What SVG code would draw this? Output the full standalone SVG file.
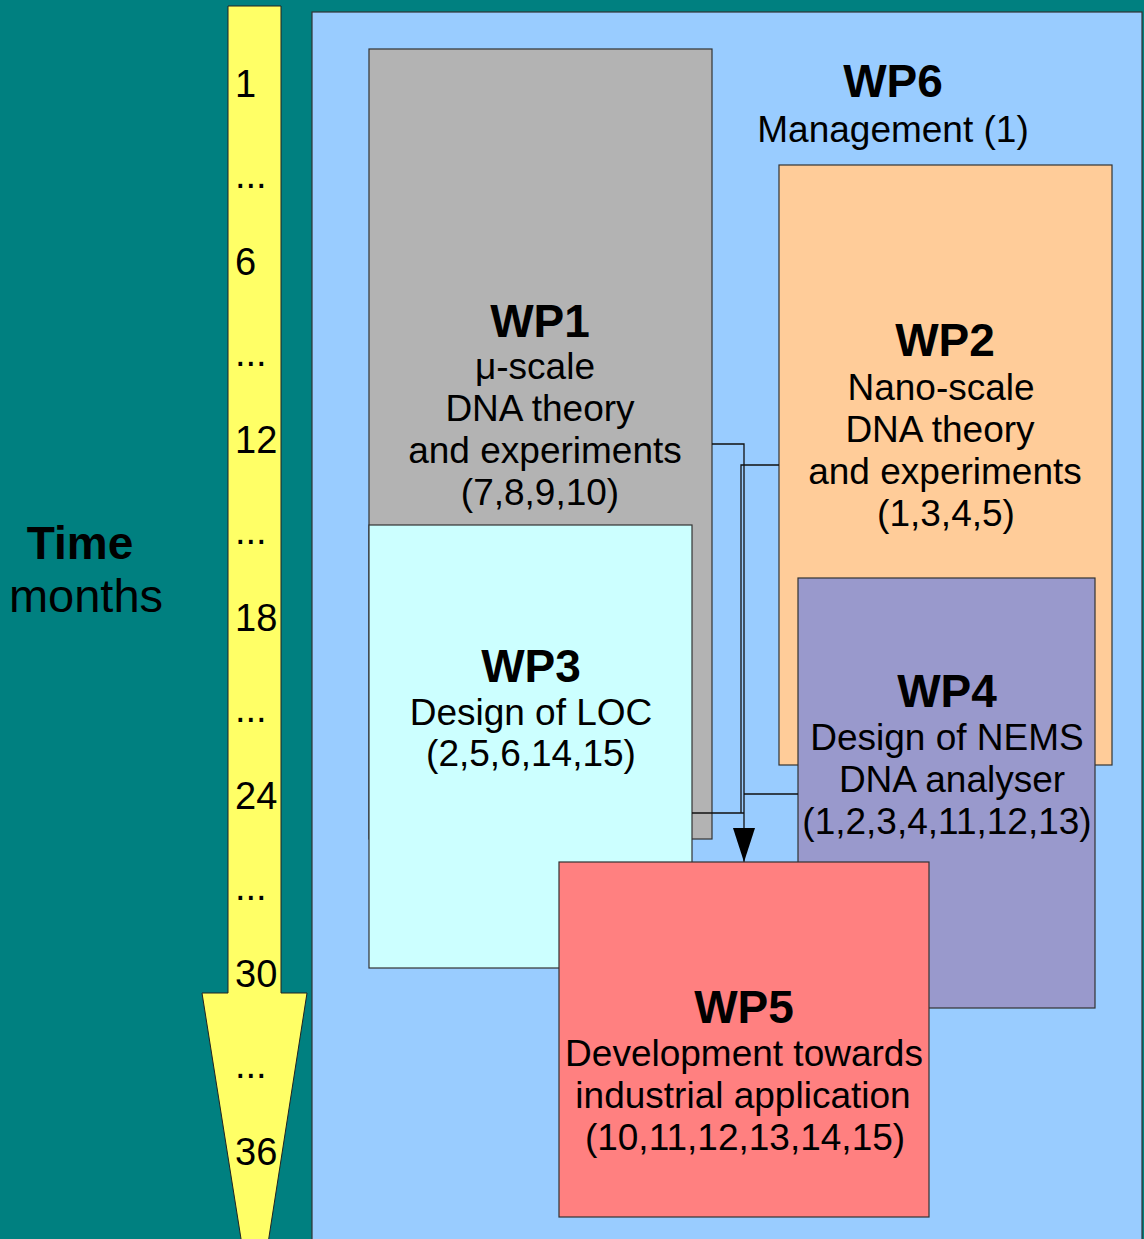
<svg xmlns="http://www.w3.org/2000/svg" width="1144" height="1239" viewBox="0 0 1144 1239">
<defs>
<style>
.box{stroke:#333;stroke-width:1.2}
.t{font-family:"Liberation Sans",Arial,sans-serif;fill:#000;text-anchor:middle}
.b{font-size:46px;font-weight:bold}
.r{font-size:37px}
.n{font-family:"Liberation Sans",Arial,sans-serif;font-size:38px;fill:#000}
.c{fill:none;stroke:#111;stroke-width:1.3}
</style>
<marker id="ah" markerWidth="34" markerHeight="22" refX="34" refY="11" orient="auto" markerUnits="userSpaceOnUse" viewBox="0 0 34 22">
<path d="M0,0 L34,11 L0,22 Z" fill="#000"/>
</marker>
</defs>
<rect x="0" y="0" width="1144" height="1239" fill="#008080"/>
<g id="timeline">
<path d="M228,6 H281 V993 H307 L255,1327 L202,993 H228 Z" fill="#ffff66" stroke="#222" stroke-width="1"/>
<text class="n" x="235" y="97">1</text>
<text class="n" x="235" y="188">...</text>
<text class="n" x="235" y="275">6</text>
<text class="n" x="235" y="366">...</text>
<text class="n" x="235" y="453">12</text>
<text class="n" x="235" y="544">...</text>
<text class="n" x="235" y="631">18</text>
<text class="n" x="235" y="722">...</text>
<text class="n" x="235" y="809">24</text>
<text class="n" x="235" y="900">...</text>
<text class="n" x="235" y="987">30</text>
<text class="n" x="235" y="1078">...</text>
<text class="n" x="235" y="1165">36</text>
</g>
<g id="time-label">
<text class="t b" x="80" y="559">Time</text>
<text class="t" style="font-size:47px" x="86" y="612">months</text>
</g>
<g id="wp6">
<rect class="box" x="312" y="12" width="830" height="1240" fill="#99ccff"/>
<text class="t b" x="893" y="97">WP6</text>
<text class="t r" x="893" y="142">Management (1)</text>
</g>
<g id="wp1">
<rect class="box" x="369" y="49" width="343" height="790" fill="#b3b3b3"/>
<text class="t b" x="540" y="337">WP1</text>
<text class="t r" x="535" y="379">μ-scale</text>
<text class="t r" x="540" y="421">DNA theory</text>
<text class="t r" x="545" y="463">and experiments</text>
<text class="t r" x="540" y="505">(7,8,9,10)</text>
</g>
<g id="wp2">
<rect class="box" x="779" y="165" width="333" height="600" fill="#ffcc99"/>
<text class="t b" x="945" y="356">WP2</text>
<text class="t r" x="941" y="400">Nano-scale</text>
<text class="t r" x="940" y="442">DNA theory</text>
<text class="t r" x="945" y="484">and experiments</text>
<text class="t r" x="946" y="526">(1,3,4,5)</text>
</g>
<g id="wp3">
<rect class="box" x="369" y="525" width="323" height="443" fill="#ccffff"/>
<text class="t b" x="531" y="682">WP3</text>
<text class="t r" x="531" y="725">Design of LOC</text>
<text class="t r" x="531" y="766">(2,5,6,14,15)</text>
</g>
<g id="wp4">
<rect class="box" x="798" y="578" width="297" height="430" fill="#9999cc"/>
<text class="t b" x="947" y="707">WP4</text>
<text class="t r" x="947" y="750">Design of NEMS</text>
<text class="t r" x="952" y="792">DNA analyser</text>
<text class="t r" x="947" y="834">(1,2,3,4,11,12,13)</text>
</g>
<g id="connectors">
<path class="c" d="M712,444 H744 V862" marker-end="url(#ah)"/>
<path class="c" d="M779,465 H741 V813"/>
<path class="c" d="M692,813 H744"/>
<path class="c" d="M798,794 H744"/>
</g>
<g id="wp5">
<rect class="box" x="559" y="862" width="370" height="355" fill="#ff8080"/>
<text class="t b" x="744" y="1023">WP5</text>
<text class="t r" x="744" y="1066">Development towards</text>
<text class="t r" x="743" y="1108">industrial application</text>
<text class="t r" x="745" y="1150">(10,11,12,13,14,15)</text>
</g>
</svg>
